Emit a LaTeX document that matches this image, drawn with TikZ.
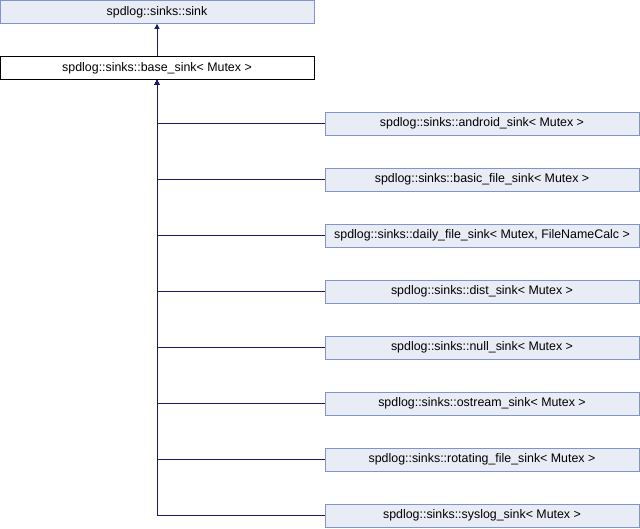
\documentclass[tikz,border=0pt]{standalone}
\usepackage{fontspec}
\setmainfont{Liberation Sans}
\usepackage{tikz}
\usetikzlibrary{arrows.meta,positioning}
\usepackage{xcolor}
\definecolor{ClassFill}{HTML}{E8ECF5}
\definecolor{ClassBorder}{HTML}{8096C8}
\definecolor{EdgeBlue}{HTML}{191970}

\tikzset{
  classbox/.style={draw=ClassBorder,fill=ClassFill,line width=0.8pt,
    minimum width=314pt,minimum height=23pt,inner sep=0pt,
    font=\fontsize{12.4}{14}\selectfont},
  basebox/.style={classbox,draw=black,fill=white},
  inherit/.style={EdgeBlue,line width=0.8pt,-{Triangle[length=5pt,width=5pt]}}
}

\begin{document}
\begin{tikzpicture}[x=1pt,y=-1pt]
   \useasboundingbox (0,0) rectangle (640,528);

   \node[classbox] (sink) at (157,12) {spdlog::sinks::sink};
   \node[basebox] (base) at (157,68) {spdlog::sinks::base\_sink< Mutex >};

   \node[classbox] (android) at (482,123.5) {spdlog::sinks::android\_sink< Mutex >};
   \node[classbox] (basicfile) at (482,179.5) {spdlog::sinks::basic\_file\_sink< Mutex >};
   \node[classbox] (dailyfile) at (482,235.5) {spdlog::sinks::daily\_file\_sink< Mutex, FileNameCalc >};
   \node[classbox] (dist) at (482,291.5) {spdlog::sinks::dist\_sink< Mutex >};
   \node[classbox] (null) at (482,347.5) {spdlog::sinks::null\_sink< Mutex >};
   \node[classbox] (ostream) at (482,403.5) {spdlog::sinks::ostream\_sink< Mutex >};
   \node[classbox] (rotating) at (482,459.5) {spdlog::sinks::rotating\_file\_sink< Mutex >};
   \node[classbox] (syslog) at (482,515.5) {spdlog::sinks::syslog\_sink< Mutex >};

   \draw[inherit] (base) -- (sink);

   \draw[inherit] (android.west) -| (base.south);
   \draw[inherit] (basicfile.west) -| (base.south);
   \draw[inherit] (dailyfile.west) -| (base.south);
   \draw[inherit] (dist.west) -| (base.south);
   \draw[inherit] (null.west) -| (base.south);
   \draw[inherit] (ostream.west) -| (base.south);
   \draw[inherit] (rotating.west) -| (base.south);
   \draw[inherit] (syslog.west) -| (base.south);
\end{tikzpicture}
\end{document}
